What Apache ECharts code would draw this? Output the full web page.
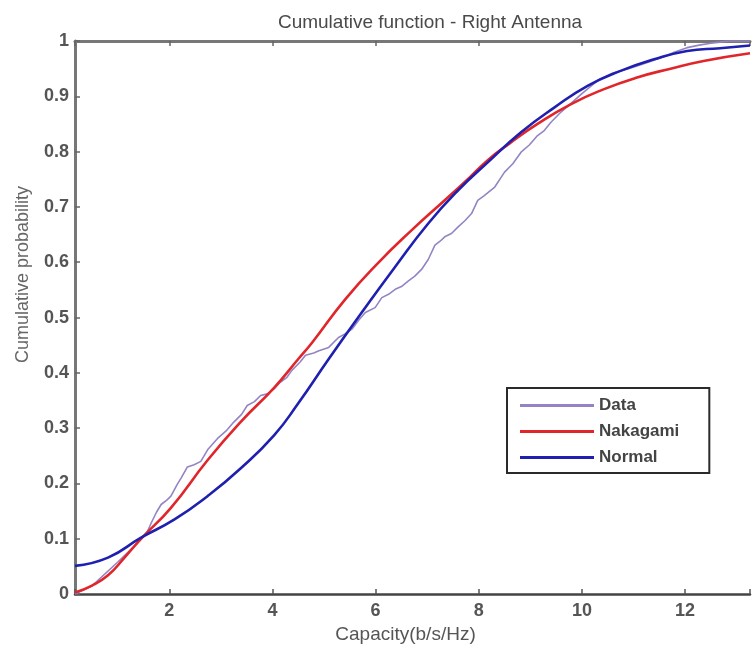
<!DOCTYPE html>
<html>
<head>
<meta charset="utf-8">
<title>Cumulative function - Right Antenna</title>
<script src="https://cdn.jsdelivr.net/npm/echarts@6/dist/echarts.min.js"></script>
<style>
    html, body { margin: 0; padding: 0; background: #fff; }
    #chart { width: 753px; height: 649px; }
</style>
</head>
<body>
<div id="chart"></div>
<script>
// Data (empirical CDF)
var dataX = [0.17, 0.5, 1.0, 1.3, 1.45, 1.55, 1.65, 1.75, 1.84, 1.95, 2.03, 2.15, 2.23, 2.35, 2.48, 2.61, 2.75, 2.93, 3.1, 3.25,
    3.4, 3.51, 3.65, 3.77, 3.9, 4.03, 4.15, 4.28, 4.38, 4.54, 4.64, 4.8, 4.9, 5.09, 5.28, 5.4, 5.54, 5.67, 5.8, 5.99,
    6.12, 6.25, 6.38, 6.5, 6.63, 6.76, 6.89, 7.02, 7.15, 7.25, 7.34, 7.47, 7.6, 7.73, 7.86, 7.98, 8.1, 8.31, 8.5, 8.66,
    8.82, 8.98, 9.14, 9.27, 9.4, 9.6, 9.8, 10.0, 10.3, 10.6, 10.9, 11.07, 11.3, 11.6, 11.8, 12.04, 12.3, 12.5, 12.68, 12.85,
    13.0, 13.26];
var dataY = [0.0, 0.015, 0.058, 0.085, 0.1, 0.108, 0.129, 0.148, 0.162, 0.17, 0.177, 0.198, 0.21, 0.23, 0.234, 0.24, 0.262, 0.281, 0.295, 0.311,
    0.325, 0.341, 0.348, 0.359, 0.362, 0.371, 0.383, 0.392, 0.405, 0.42, 0.432, 0.436, 0.44, 0.446, 0.464, 0.47, 0.479, 0.495, 0.509, 0.518,
    0.536, 0.542, 0.551, 0.556, 0.566, 0.575, 0.587, 0.605, 0.631, 0.638, 0.646, 0.652, 0.664, 0.675, 0.688, 0.712, 0.72, 0.736, 0.763, 0.778,
    0.799, 0.812, 0.829, 0.838, 0.853, 0.872, 0.888, 0.905, 0.928, 0.942, 0.95, 0.955, 0.962, 0.972, 0.98, 0.988, 0.993, 0.996, 0.998, 1.0,
    1.0, 1.0];

// Nakagami fit
var nakaX = [0.17, 0.49, 0.81, 1.13, 1.45, 2.03, 2.74, 3.38, 4.03, 4.5, 4.77, 5.41, 6.05, 6.7, 7.34, 7.73, 8.18, 8.6, 9.14, 9.79,
    10.43, 11.07, 11.72, 12.36, 13.26];
var nakaY = [0.003, 0.015, 0.034, 0.066, 0.1, 0.156, 0.242, 0.311, 0.373, 0.425, 0.455, 0.533, 0.599, 0.658, 0.712, 0.745, 0.785, 0.815, 0.85, 0.886,
    0.913, 0.934, 0.95, 0.964, 0.978];

// Normal fit
var normX = [0.17, 0.81, 1.45, 2.1, 2.74, 3.38, 4.03, 4.5, 5.09, 5.73, 6.38, 7.02, 7.6, 8.18, 8.82, 9.47, 10.11, 10.75, 11.4, 12.04,
    12.68, 13.26];
var normY = [0.051, 0.066, 0.102, 0.135, 0.177, 0.227, 0.287, 0.345, 0.425, 0.509, 0.592, 0.67, 0.73, 0.781, 0.835, 0.88, 0.919, 0.946, 0.967, 0.982,
    0.987, 0.992];

var xTicks = [2, 4, 6, 8, 10, 12];

function pairs(xs, ys) {
    var out = [];
    for (var i = 0; i < xs.length; i++) {
        out.push([xs[i], ys[i]]);
    }
    return out;
}

var tickFont = "'Liberation Sans Narrow', 'Liberation Sans', Arial, sans-serif";
var textFont = "'Liberation Sans', Arial, sans-serif";

var myChart = echarts.init(document.getElementById('chart'), null, {renderer: 'canvas'});

var option = {
    backgroundColor: '#fff',
    animation: false,
    title: {
        text: 'Cumulative function - Right Antenna',
        left: 425,
        top: 8,
        textAlign: 'center',
        textStyle: {
            fontFamily: textFont,
            fontSize: 19,
            fontWeight: 'normal',
            color: '#4a4a4a'
        }
    },
    grid: {
        left: 75,
        right: 0,
        top: 41,
        bottom: 52
    },
    legend: {
        orient: 'vertical',
        left: 507,
        top: 388,
        padding: [9, 30, 7, 13],
        icon: 'rect',
        itemWidth: 74,
        itemHeight: 3,
        itemGap: 9,
        backgroundColor: '#fff',
        borderColor: '#2a2a2a',
        borderWidth: 2,
        borderRadius: 0,
        textStyle: {
            fontFamily: textFont,
            fontSize: 17,
            fontWeight: 'bold',
            color: '#444'
        },
        data: ['Data', 'Nakagami', 'Normal']
    },
    xAxis: [{
        type: 'value',
        position: 'bottom',
        min: 0.17,
        max: 13.26,
        minInterval: 2,
        maxInterval: 2,
        name: 'Capacity(b/s/Hz)',
        nameLocation: 'middle',
        nameGap: 29,
        nameTextStyle: {
            fontFamily: textFont,
            fontSize: 19,
            color: '#555',
            padding: [0, 14, 0, 0]
        },
        axisLine: {lineStyle: {color: '#444', width: 2.5}},
        axisTick: {inside: true, length: 5, lineStyle: {color: '#555', width: 1.5}},
        axisLabel: {
            margin: 8,
            fontFamily: tickFont,
            fontSize: 18,
            fontWeight: 'bold',
            color: '#555',
            formatter: function (v) {
                return xTicks.indexOf(v) >= 0 ? String(v) : '';
            }
        },
        splitLine: {show: false}
    }, {
        type: 'value',
        position: 'top',
        min: 0.17,
        max: 13.26,
        minInterval: 2,
        maxInterval: 2,
        axisLine: {lineStyle: {color: '#777', width: 3}},
        axisTick: {inside: true, length: 5, lineStyle: {color: '#666', width: 1.5}},
        axisLabel: {show: false},
        splitLine: {show: false}
    }],
    yAxis: {
        type: 'value',
        min: 0,
        max: 1,
        interval: 0.1,
        name: 'Cumulative probability',
        nameLocation: 'middle',
        nameGap: 43,
        nameTextStyle: {
            fontFamily: textFont,
            fontSize: 18,
            color: '#666',
            padding: [0, 0, 0, 86]
        },
        axisLine: {lineStyle: {color: '#777', width: 3}},
        axisTick: {inside: true, length: 5, lineStyle: {color: '#666', width: 1.5}},
        axisLabel: {
            margin: 6,
            fontFamily: tickFont,
            fontSize: 18,
            fontWeight: 'bold',
            color: '#555'
        },
        splitLine: {show: false}
    },
    series: [{
        name: 'Data',
        type: 'line',
        data: pairs(dataX, dataY),
        symbol: 'none',
        lineStyle: {color: '#9484c4', width: 1.6},
        itemStyle: {color: '#9484c4'}
    }, {
        name: 'Nakagami',
        type: 'line',
        data: pairs(nakaX, nakaY),
        symbol: 'none',
        smooth: true,
        lineStyle: {color: '#e0262a', width: 2.6},
        itemStyle: {color: '#e0262a'}
    }, {
        name: 'Normal',
        type: 'line',
        data: pairs(normX, normY),
        symbol: 'none',
        smooth: true,
        lineStyle: {color: '#1f1fb0', width: 2.6},
        itemStyle: {color: '#1f1fb0'}
    }]
};

myChart.setOption(option);
</script>
</body>
</html>
